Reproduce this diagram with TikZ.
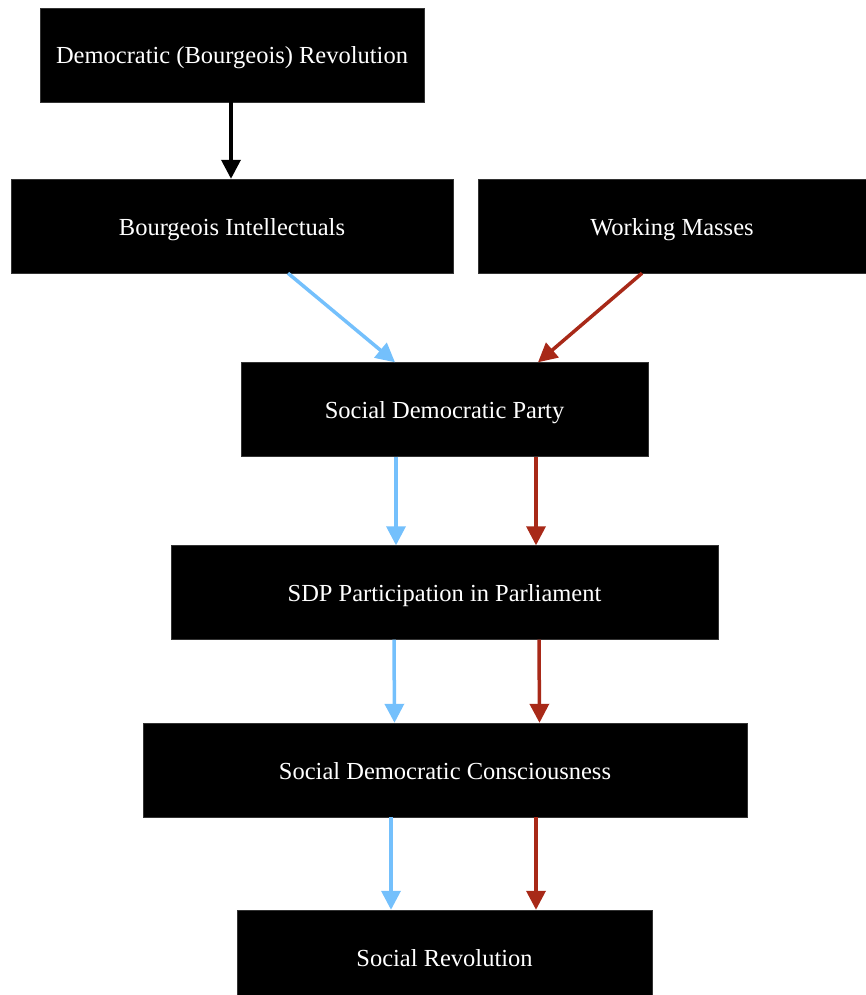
\documentclass[tikz,border=0pt]{standalone}
\usepackage{fontspec}
\setmainfont{Liberation Serif}
\usetikzlibrary{arrows.meta}
\definecolor{sdblue}{RGB}{116,192,252}
\definecolor{sdred}{RGB}{168,41,24}

\def\h{94}
\def\mid{444.5}

\begin{document}
\begin{tikzpicture}[x=1pt, y=-1pt]
			\tikzset{box/.style={fill=black, draw=black!80, text=white, font=\fontsize{24.5}{28}\selectfont, minimum height=\h pt, inner sep=0pt, text height=18pt, text depth=0pt}}
			\tikzset{edge/.style={-{Triangle[width=19pt, length=19pt]}, line width=3.5pt}}
			\useasboundingbox (0,0) rectangle (866,995);
			\node[box, minimum width=384pt](dem) at (232,55){Democratic (Bourgeois) Revolution};
			\node[box, minimum width=442pt](intel) at (232,226){Bourgeois Intellectuals};
			\node[box, minimum width=388pt](mass) at (672,226){Working Masses};
			\node[box, minimum width=407pt](sdp) at (\mid,409.5){Social Democratic Party};
			\node[box, minimum width=547pt](parl) at (\mid,592.5){SDP Participation in Parliament};
			\node[box, minimum width=604pt](cons) at (445,770){Social Democratic Consciousness};
			\node[box, minimum width=415pt](rev) at (\mid,957){Social Revolution};
			\draw[edge, black] ([xshift=-1pt]dem.south) -- ([xshift=-1pt]intel.north);
			\draw[edge, sdblue] ([xshift=56pt]intel.south) -- ([xshift=-49.5pt]sdp.north);
			\draw[edge, sdred] ([xshift=-30pt]mass.south) -- ([xshift=93.5pt]sdp.north);
			\draw[edge, sdblue] ([xshift=-48.5pt]sdp.south) -- ([xshift=-48.5pt]parl.north);
			\draw[edge, sdred] ([xshift=91.5pt]sdp.south) -- ([xshift=91.5pt]parl.north);
			\draw[edge, sdblue] ([xshift=-50.5pt]parl.south) -- ([xshift=-50.5pt]cons.north);
			\draw[edge, sdred] ([xshift=94.5pt]parl.south) -- ([xshift=94.5pt]cons.north);
			\draw[edge, sdblue] ([xshift=-54pt]cons.south) -- ([xshift=-53.5pt]rev.north);
			\draw[edge, sdred] ([xshift=91pt]cons.south) -- ([xshift=91.5pt]rev.north);
		\end{tikzpicture}
\end{document}
